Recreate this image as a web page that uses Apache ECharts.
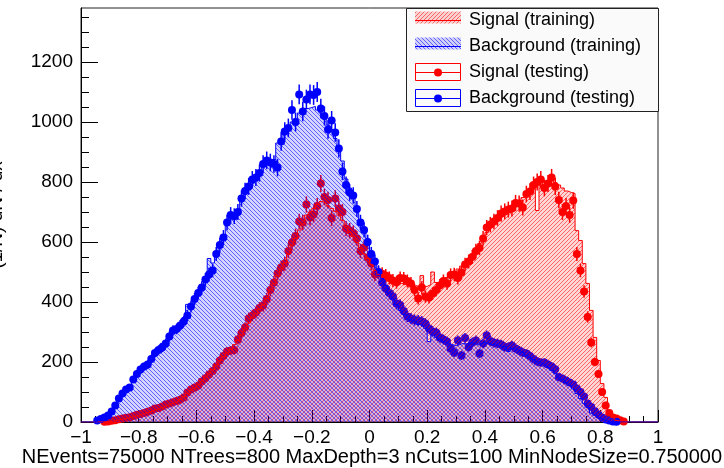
<!DOCTYPE html>
<html>
<head>
<meta charset="utf-8">
<script src="https://cdn.jsdelivr.net/npm/echarts@6/dist/echarts.min.js"></script>
<style>
html,body{margin:0;padding:0;background:#ffffff;}
#chart{width:724px;height:468px;}
</style>
</head>
<body>
<div id="chart"></div>
<script>
// ---- binning (left edge of first listed bin, bin width) ----
const binStart = -0.95;
const binWidth = 0.0125;
const xMin = -1, xMax = 1;
const yMin = 0, yMax = 1380;
const yMajorTicks = [0, 200, 400, 600, 800, 1000, 1200];
const yMinorTicks = [50, 100, 150, 250, 300, 350, 450, 500, 550, 650, 700, 750, 850, 900, 950, 1050, 1100, 1150, 1250, 1300, 1350];

// ---- Signal (testing) ----
const sigTest = [
  0,0,1,2,4,6,9,12,14,16,
  20,24,27,30,34,38,45,47,52,58,
  62,66,70,74,82,98,108,115,121,135,
  146,158,170,185,205,220,235,238,240,275,
  297,315,345,355,365,380,388,410,440,465,
  495,515,528,570,598,620,668,665,725,682,
  692,720,795,750,740,680,745,712,700,645,
  638,630,612,570,582,548,528,492,498,494,
  488,480,472,466,480,478,470,462,440,412,
  448,418,415,428,440,455,470,462,490,492,
  480,498,525,535,550,570,580,612,648,658,
  668,680,695,702,708,712,730,728,715,760,
  768,790,800,808,780,795,815,785,740,700,
  720,690,738,560,505,435,350,265,200,160,
  100,55,30,15,12,6,2
];
// ---- Background (testing) ----
const bkgTest = [
  5,10,15,22,35,55,78,95,108,115,
  142,160,175,185,192,210,230,240,248,262,
  285,305,310,322,335,355,385,410,430,448,
  475,492,505,560,590,615,665,690,686,700,
  745,770,785,808,815,830,860,872,865,860,
  848,935,968,980,1040,1000,1092,1035,1075,1092,
  1090,1100,1045,1020,975,1005,965,912,835,790,
  765,755,710,665,640,600,560,535,500,465,
  445,430,418,395,390,370,352,345,340,338,
  335,328,312,302,298,282,275,268,245,232,
  272,222,280,250,265,272,228,262,288,270,
  264,262,258,250,250,255,245,238,232,228,
  220,210,202,198,198,192,185,176,150,145,
  138,132,125,112,100,85,62,50,36,25,
  15,8,5,2,1,0,0
];
// ---- Signal (training) ----
const sigTrain = [
  0,0,1,2,3,5,8,11,13,16,
  19,22,26,30,33,37,42,46,50,55,
  60,64,68,75,85,95,106,114,124,136,
  150,162,175,190,205,218,230,242,258,272,
  290,310,330,350,362,378,392,412,440,462,
  488,510,530,560,590,612,640,660,690,700,
  712,725,735,730,720,712,702,690,672,650,
  632,618,598,578,560,545,525,505,492,488,
  482,478,470,465,462,458,455,450,455,450,
  488,452,458,500,465,468,475,482,490,500,
  510,520,532,545,560,578,595,612,632,668,
  665,678,690,700,710,718,728,738,748,758,
  768,778,705,790,800,805,808,798,790,780,
  770,765,762,638,605,528,462,372,282,205,
  128,82,38,15,5,2,0
];
// ---- Background (training) ----
const bkgTrain = [
  6,11,17,25,38,58,76,92,110,122,
  140,158,172,186,198,212,228,242,262,270,
  288,302,316,330,348,392,388,412,432,455,
  480,545,530,565,592,620,662,680,695,705,
  735,760,790,795,812,828,850,862,858,875,
  930,945,960,985,1000,1010,1030,1035,1045,1048,
  1052,1040,1030,1010,990,975,945,915,870,810,
  780,745,715,675,640,610,570,540,505,478,
  455,430,410,392,372,358,352,340,335,325,
  320,312,268,290,282,275,268,262,258,255,
  258,262,260,265,262,258,262,265,262,258,
  260,255,252,250,235,245,242,236,230,222,
  215,208,200,195,190,182,172,162,150,142,
  132,122,110,95,78,62,48,30,22,14,
  8,4,2,1,0,0,0
];

const legendNames = ['Signal (training)', 'Background (training)', 'Signal (testing)', 'Background (testing)'];
const xTitle = 'NEvents=75000 NTrees=800 MaxDepth=3 nCuts=100 MinNodeSize=0.750000';
const yTitle = '(1/N) dN / dx';

const RED = '#ff0000', BLUE = '#0000ff';
const FONT = '"Liberation Sans", Arial, Helvetica, sans-serif';

function makeHatch(bg, ink, forward) {
  const n = 4;
  const c = document.createElement('canvas');
  c.width = n; c.height = n;
  const g = c.getContext('2d');
  g.fillStyle = bg;
  g.fillRect(0, 0, n, n);
  for (let i = 0; i < n; i++) {
    const x = forward ? n - 1 - i : i;
    g.clearRect(x, i, 1, 1);
    g.fillStyle = ink;
    g.fillRect(x, i, 1, 1);
  }
  return c;
}
const redHatch = makeHatch('rgba(255,0,0,0.16)', 'rgba(255,0,0,0.6)', true);
const blueHatch = makeHatch('rgba(0,0,255,0.17)', 'rgba(0,0,255,0.62)', false);

function stepData(vals) {
  const pts = [[xMin, 0], [binStart, 0]];
  vals.forEach((v, k) => {
    const l = binStart + k * binWidth;
    pts.push([l, v], [l + binWidth, v]);
  });
  pts.push([binStart + vals.length * binWidth, 0], [xMax, 0]);
  return pts;
}
function pointData(vals) {
  return vals.map((v, k) => [binStart + (k + 0.5) * binWidth, v, Math.sqrt(v)]).filter(p => p[1] > 0);
}
function errSeries(vals, color) {
  return {
    type: 'custom',
    animation: false,
    silent: true,
    clip: true,
    data: pointData(vals),
    renderItem: function (params, api) {
      const x = api.value(0), y = api.value(1), e = api.value(2);
      const a = api.coord([x, y - e]), b = api.coord([x, y + e]);
      return { type: 'line', shape: { x1: a[0], y1: a[1], x2: b[0], y2: b[1] }, style: { stroke: color, lineWidth: 1.5 } };
    }
  };
}
function ptSeries(vals, color) {
  return {
    type: 'scatter', animation: false, silent: true,
    symbol: 'circle', symbolSize: 8,
    itemStyle: { color: color, opacity: 1 },
    data: pointData(vals).map(p => [p[0], p[1]])
  };
}
function histSeries(vals, color, hatch) {
  return {
    type: 'line', animation: false, silent: true,
    showSymbol: false, symbol: 'none',
    data: stepData(vals),
    lineStyle: { color: color, width: 1 },
    areaStyle: { color: { image: hatch, repeat: 'repeat' }, opacity: 1 }
  };
}

// legend built as graphic elements
const legendX = 406, legendY = 8, legendW = 252, legendH = 103;
const rowCenters = [20, 46, 72, 98];
const legendEls = [{
  type: 'rect', shape: { x: legendX + 0.5, y: legendY + 0.5, width: legendW, height: legendH },
  style: { fill: '#fafafa', stroke: '#222', lineWidth: 1 }, z: 100
}];
legendNames.forEach((name, i) => {
  const cy = rowCenters[i];
  const color = (i % 2 === 0) ? RED : BLUE;
  if (i < 2) {
    legendEls.push({ type: 'rect', shape: { x: 415, y: cy - 8.5, width: 46, height: 12 },
      style: { fill: { image: i === 0 ? redHatch : blueHatch, repeat: 'repeat' } }, z: 101 });
    legendEls.push({ type: 'line', shape: { x1: 415, y1: cy + 0.5, x2: 461, y2: cy + 0.5 },
      style: { stroke: color, lineWidth: 1 }, z: 102 });
  } else {
    legendEls.push({ type: 'rect', shape: { x: 415.5, y: cy - 8.5, width: 45, height: 17 },
      style: { fill: null, stroke: color, lineWidth: 1 }, z: 101 });
    legendEls.push({ type: 'line', shape: { x1: 415, y1: cy + 0.5, x2: 461, y2: cy + 0.5 },
      style: { stroke: color, lineWidth: 1 }, z: 102 });
    legendEls.push({ type: 'circle', shape: { cx: 438, cy: cy + 0.5, r: 4 },
      style: { fill: color }, z: 103 });
  }
  legendEls.push({ type: 'text', x: 469, y: cy, z: 103,
    style: { text: name, fill: '#000', font: '18px ' + FONT, verticalAlign: 'middle', align: 'left' } });
});
legendEls.push({ type: 'text', x: 722, y: 457,
  style: { text: xTitle, fill: '#000', font: '20px ' + FONT, align: 'right', verticalAlign: 'middle' } });
legendEls.push({ type: 'text', x: -3, y: 215, rotation: Math.PI / 2,
  style: { text: yTitle, fill: '#000', font: '19px ' + FONT, align: 'center', verticalAlign: 'middle' } });

const chart = echarts.init(document.getElementById('chart'), null, { renderer: 'canvas' });
chart.setOption({
  animation: false,
  backgroundColor: '#ffffff',
  grid: { left: 81, right: 66, top: 8, bottom: 46, show: true, borderColor: '#222', borderWidth: 1, backgroundColor: 'transparent', outerBoundsMode: 'none', containLabel: false },
  xAxis: {
    type: 'value', min: xMin, max: xMax, interval: 0.2,
    axisLine: { show: true, onZero: false, lineStyle: { color: '#000', width: 1 } },
    axisTick: { show: true, inside: true, length: 12, lineStyle: { color: '#000' } },
    minorTick: { show: true, splitNumber: 4, length: 6, lineStyle: { color: '#000' } },
    splitLine: { show: false }, minorSplitLine: { show: false },
    axisLabel: {
      color: '#000', fontSize: 19, fontFamily: FONT, margin: 6,
      formatter: function (v) { const r = Math.round(v * 10) / 10; if (r === 0) return '0'; return (r < 0 ? '\u2212' : '') + Math.abs(r); }
    }
  },
  yAxis: [{
    type: 'value', min: yMin, max: yMax, position: 'left',
    axisLine: { show: true, onZero: false, lineStyle: { color: '#000', width: 1 } },
    axisTick: { show: true, inside: true, length: 17, customValues: yMajorTicks, lineStyle: { color: '#000' } },
    axisLabel: { color: '#000', fontSize: 19, fontFamily: FONT, margin: 8, customValues: yMajorTicks,
      formatter: function (v) { return String(Math.round(v)); } },
    splitLine: { show: false }
  }, {
    type: 'value', min: yMin, max: yMax, position: 'left', offset: 0,
    axisLine: { show: false, onZero: false },
    axisTick: { show: true, inside: true, length: 8, customValues: yMinorTicks, lineStyle: { color: '#000' } },
    axisLabel: { show: false },
    splitLine: { show: false }
  }],
  graphic: { elements: legendEls },
  series: [
    histSeries(sigTrain, RED, redHatch),
    histSeries(bkgTrain, BLUE, blueHatch),
    errSeries(sigTest, RED),
    ptSeries(sigTest, RED),
    errSeries(bkgTest, BLUE),
    ptSeries(bkgTest, BLUE)
  ]
});
</script>
</body>
</html>
